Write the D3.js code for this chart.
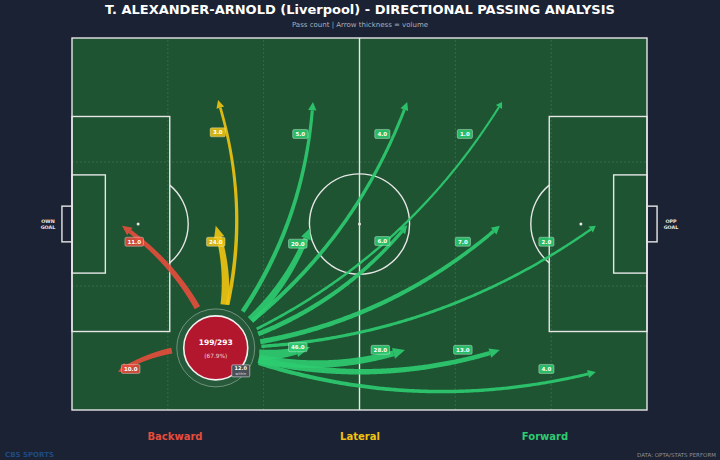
<!DOCTYPE html>
<html>
<head>
<meta charset="utf-8">
<script src="https://cdn.jsdelivr.net/npm/d3@7"></script>
<style>
  body { margin: 0; background: #1b2233; }
</style>
</head>
<body>
<div id="chart"></div>
<script>
// zone-to-zone pass data (Opta pitch coords, 0-100)
const directions = ["Backward", "Lateral", "Forward"];
const passDir = [
  "Backward", "Backward",
  "Lateral", "Lateral",
  "Forward", "Forward", "Forward", "Forward", "Forward", "Forward",
  "Forward", "Forward", "Forward", "Forward", "Forward",
];
const passEndX = [8.7, 8.0, 25.4, 25.0, 41.9, 58.3, 74.8, 41.4, 58.3, 74.4, 91.1, 41.4, 57.9, 74.4, 91.1];
const passEndY = [49.5, 10.2, 83.3, 49.5, 82.8, 82.8, 82.8, 48.9, 49.7, 49.5, 49.5, 16.9, 16.1, 16.1, 10.2];
const passCount = [11, 10, 3, 24, 5, 4, 1, 20, 6, 7, 2, 46, 28, 13, 4];

const playerPos = [25.0, 16.7];
const completed = 199;
const attempted = 293;
const sameZone = 12;

const colors = { Backward: "#e74c3c", Lateral: "#f1c40f", Forward: "#2ecc71" };

const W = 720, H = 460;
const svg = d3.select("#chart").append("svg").attr("width", W).attr("height", H)
  .style("font-family", "'DejaVu Sans', sans-serif");

svg.append("rect").attr("width", W).attr("height", H).attr("fill", "#1b2233");

const x = d3.scaleLinear().domain([0, 100]).range([72, 647]);
const y = d3.scaleLinear().domain([0, 100]).range([410, 38]);

// title
svg.append("text").attr("x", 360).attr("y", 14).attr("text-anchor", "middle")
  .attr("fill", "#ffffff").attr("font-weight", "bold").attr("font-size", 13)
  .text("T. ALEXANDER-ARNOLD (Liverpool) - DIRECTIONAL PASSING ANALYSIS");
svg.append("text").attr("x", 360).attr("y", 27).attr("text-anchor", "middle")
  .attr("fill", "#a9b0bc").attr("font-size", 7)
  .text("Pass count | Arrow thickness = volume");

// pitch
const pitch = svg.append("g");
const lineCol = "#e6e6e6";
pitch.append("rect").attr("x", x(0)).attr("y", y(100)).attr("width", x(100) - x(0))
  .attr("height", y(0) - y(100)).attr("fill", "#1e5432");

// zone grid
d3.range(1, 6).forEach(k => {
  pitch.append("line").attr("x1", x(k * 100 / 6)).attr("x2", x(k * 100 / 6))
    .attr("y1", y(0)).attr("y2", y(100))
    .attr("stroke", "rgba(255,255,255,0.12)").attr("stroke-dasharray", "2,2");
});
d3.range(1, 3).forEach(k => {
  pitch.append("line").attr("x1", x(0)).attr("x2", x(100))
    .attr("y1", y(k * 100 / 3)).attr("y2", y(k * 100 / 3))
    .attr("stroke", "rgba(255,255,255,0.12)").attr("stroke-dasharray", "2,2");
});

const markings = pitch.append("g").attr("fill", "none").attr("stroke", lineCol).attr("stroke-width", 1.4);
markings.append("rect").attr("x", x(0)).attr("y", y(100)).attr("width", x(100) - x(0)).attr("height", y(0) - y(100));
markings.append("line").attr("x1", x(50)).attr("x2", x(50)).attr("y1", y(0)).attr("y2", y(100));
const circR = x(8.71) - x(0);
markings.append("circle").attr("cx", x(50)).attr("cy", y(50)).attr("r", circR);

[0, 1].forEach(side => {
  const f = v => side === 0 ? v : 100 - v;
  // penalty box, six-yard box, goal
  markings.append("rect").attr("x", Math.min(x(f(0)), x(f(17)))).attr("y", y(78.9))
    .attr("width", x(17) - x(0)).attr("height", y(21.1) - y(78.9));
  markings.append("rect").attr("x", Math.min(x(f(0)), x(f(5.8)))).attr("y", y(63.2))
    .attr("width", x(5.8) - x(0)).attr("height", y(36.8) - y(63.2));
  markings.append("rect").attr("x", Math.min(x(f(0)), x(f(-1.75)))).attr("y", y(54.8))
    .attr("width", x(0) - x(-1.75)).attr("height", y(45.2) - y(54.8));
  // penalty arc
  const sx = x(f(11.5)), sy = y(50);
  const a = Math.acos((x(17) - x(11.5)) / circR);
  const dir = side === 0 ? 1 : -1;
  const p = d3.path();
  p.moveTo(sx + dir * circR * Math.cos(a), sy - circR * Math.sin(a));
  p.arc(sx, sy, circR, side === 0 ? -a : Math.PI + a, side === 0 ? a : Math.PI - a, side === 1);
  markings.append("path").attr("d", p.toString());
  pitch.append("circle").attr("cx", sx).attr("cy", sy).attr("r", 1.5).attr("fill", lineCol);
});
pitch.append("circle").attr("cx", x(50)).attr("cy", y(50)).attr("r", 1.5).attr("fill", lineCol);

// goal labels
[["OWN", "GOAL", 48], ["OPP", "GOAL", 671]].forEach(g => {
  const t = svg.append("text").attr("text-anchor", "middle").attr("fill", "#e8e8e8")
    .attr("font-size", 4.8).attr("font-weight", "bold");
  t.append("tspan").attr("x", g[2]).attr("y", 223).text(g[0]);
  t.append("tspan").attr("x", g[2]).attr("y", 229).text(g[1]);
});

// arrows
const rad = 0.16;
const startGap = 44;
const px0 = x(playerPos[0]), py0 = y(playerPos[1]);

function drawArrow(g, x1, y1, count, color) {
  const dx = x1 - px0, dy = y1 - py0;
  const cx = (px0 + x1) / 2 - rad * dy, cy = (py0 + y1) / 2 + rad * dx;
  const pts = d3.range(0, 1.0001, 0.005).map(t => [
    (1 - t) * (1 - t) * px0 + 2 * (1 - t) * t * cx + t * t * x1,
    (1 - t) * (1 - t) * py0 + 2 * (1 - t) * t * cy + t * t * y1,
  ]);
  const cum = [0];
  for (let i = 1; i < pts.length; i++) {
    cum.push(cum[i - 1] + Math.hypot(pts[i][0] - pts[i - 1][0], pts[i][1] - pts[i - 1][1]));
  }
  const total = cum[cum.length - 1];
  const w0 = 1.3 + 1.45 * Math.sqrt(count);
  const w1 = 0.6 * w0 + 0.4;
  const headLen = 5 + w1 * 1.3;
  const i0 = pts.findIndex(p => Math.hypot(p[0] - px0, p[1] - py0) >= startGap);
  let i1 = cum.findIndex(c => c >= total - headLen);
  const body = pts.slice(i0, i1 + 1);
  const left = [], right = [];
  body.forEach((p, k) => {
    const q = body[Math.min(k + 1, body.length - 1)], r = body[Math.max(k - 1, 0)];
    const tx = q[0] - r[0], ty = q[1] - r[1], tl = Math.hypot(tx, ty) || 1;
    const w = (w0 + (w1 - w0) * k / (body.length - 1)) / 2;
    left.push([p[0] - ty / tl * w, p[1] + tx / tl * w]);
    right.push([p[0] + ty / tl * w, p[1] - tx / tl * w]);
  });
  g.append("path").attr("d", d3.line()(left.concat(right.reverse())) + "Z")
    .attr("fill", color).attr("fill-opacity", 0.9);
  // head
  const b = body[body.length - 1];
  const hx = x1 - b[0], hy = y1 - b[1], hl = Math.hypot(hx, hy) || 1;
  const hw = w1 / 2 + 2.6;
  g.append("path").attr("d", d3.line()([
    [b[0] - hy / hl * hw, b[1] + hx / hl * hw],
    [x1, y1],
    [b[0] + hy / hl * hw, b[1] - hx / hl * hw],
  ]) + "Z").attr("fill", color).attr("fill-opacity", 0.9);
}

const arrowG = svg.append("g");
const order = d3.range(passCount.length).sort((a, b) => passCount[a] - passCount[b]);
order.forEach(i => drawArrow(arrowG, x(passEndX[i]), y(passEndY[i]), passCount[i], colors[passDir[i]]));

// player node
svg.append("circle").attr("cx", px0).attr("cy", py0).attr("r", 39)
  .attr("fill", "rgba(255,255,255,0.04)").attr("stroke", "rgba(255,255,255,0.35)").attr("stroke-width", 1);
svg.append("circle").attr("cx", px0).attr("cy", py0).attr("r", 32)
  .attr("fill", "#b3172e").attr("stroke", "#f2f2f2").attr("stroke-width", 1.6);
svg.append("text").attr("x", px0).attr("y", py0 - 3).attr("text-anchor", "middle")
  .attr("fill", "#fff").attr("font-weight", "bold").attr("font-size", 7.5)
  .text(`${completed}/${attempted}`);
svg.append("text").attr("x", px0).attr("y", py0 + 10).attr("text-anchor", "middle")
  .attr("fill", "#f0cfd4").attr("font-size", 5.8)
  .text(`(${d3.format(".1f")(completed / attempted * 100)}%)`);

// same-zone box
const sz = svg.append("g").attr("transform", `translate(${px0 + 25},${py0 + 23})`);
sz.append("rect").attr("x", -9).attr("y", -6).attr("width", 18).attr("height", 12).attr("rx", 1.2)
  .attr("fill", "#4a4f57").attr("stroke", "#e0e0e0").attr("stroke-width", 0.6);
sz.append("text").attr("y", -0.5).attr("text-anchor", "middle").attr("fill", "#fff")
  .attr("font-size", 5).attr("font-weight", "bold").text(d3.format(".1f")(sameZone));
sz.append("text").attr("y", 4.5).attr("text-anchor", "middle").attr("fill", "#ddd")
  .attr("font-size", 3.6).text("within");

// count labels
passCount.forEach((c, i) => {
  const ex = x(passEndX[i]), ey = y(passEndY[i]);
  const lx = px0 + (ex - px0) * 0.87, ly = py0 + (ey - py0) * 0.87;
  const label = d3.format(".1f")(c);
  const bw = label.length * 3.4 + 5;
  const g = svg.append("g").attr("transform", `translate(${lx},${ly})`);
  g.append("rect").attr("x", -bw / 2).attr("y", -4.5).attr("width", bw).attr("height", 9).attr("rx", 1.5)
    .attr("fill", colors[passDir[i]]).attr("fill-opacity", 0.85)
    .attr("stroke", "rgba(255,255,255,0.7)").attr("stroke-width", 0.5);
  g.append("text").attr("y", 2).attr("text-anchor", "middle").attr("fill", "#fff")
    .attr("font-size", 5.5).attr("font-weight", "bold").text(label);
});

// legend
const legendX = d3.scalePoint().domain(directions).range([175, 545]);
svg.selectAll(".legend").data(directions).enter().append("text")
  .attr("x", d => legendX(d)).attr("y", 440).attr("text-anchor", "middle")
  .attr("fill", d => colors[d]).attr("font-weight", "bold").attr("font-size", 10)
  .text(d => d);

svg.append("text").attr("x", 5).attr("y", 457).attr("fill", "#1f4a80")
  .attr("font-weight", "bold").attr("font-size", 7).text("CBS SPORTS");
svg.append("text").attr("x", 716).attr("y", 457).attr("text-anchor", "end").attr("fill", "#8a909a")
  .attr("font-size", 5.5).text("DATA: OPTA/STATS PERFORM");
</script>
</body>
</html>
